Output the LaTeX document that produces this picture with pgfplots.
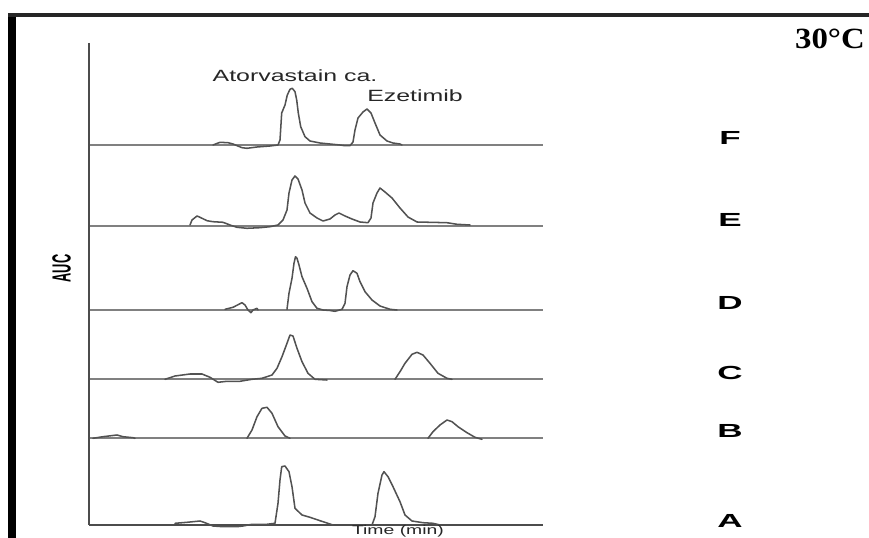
\documentclass[border=0pt]{standalone}
\usepackage{fontspec}
\setmainfont{Liberation Sans}
\newfontfamily\timesf{Liberation Serif}
\usepackage{pgfplots}
\pgfplotsset{compat=1.18}
\pgfplotsset{
  trace/.style={black!68, line width=1.15pt, line join=round, line cap=round, mark=none},
  basel/.style={black!50, line width=1.1pt, mark=none},
}
\begin{document}
\begin{tikzpicture}
\useasboundingbox (0,0) rectangle (651.75pt,403.5pt);
\begin{axis}[at={(0,0)}, anchor=south west, scale only axis,
  width=651.75pt, height=403.5pt,
  xmin=0, xmax=869, ymin=0, ymax=538, y dir=reverse,
  hide axis, clip=false]
% frame
\fill[black] (axis cs:8,13) rectangle (axis cs:16,538);
\fill[black!85] (axis cs:8,13) rectangle (axis cs:869,17);
% baselines
\addplot[basel] coordinates {(89,145)(543,145)};
\addplot[basel] coordinates {(89,226)(543,226)};
\addplot[basel] coordinates {(89,310)(543,310)};
\addplot[basel] coordinates {(89,379)(543,379)};
\addplot[basel] coordinates {(89,438)(543,438)};
\addplot[black!70, line width=1.1pt, mark=none] coordinates {(89,525)(543,525)};
% y axis
\addplot[black!70, line width=1.5pt, mark=none] coordinates {(89,43)(89,525.5)};
% F
\addplot[trace] coordinates {(213,145)(220,142.3)(228,142.7)(233,144)(242,147.7)(247,148.3)(257,147)(270,146)(278,145)(280,140)(281.7,113)(285,105)(287.3,95)(290,89.3)(292.3,88.3)(295,91.7)(296.7,100)(298.3,113)(300.7,126.7)(305,136.7)(310,141)(320,143)(330,144)(340,145)(345,145.7)(350,145.7)(353,142)(355,130)(358,118)(363,112)(367,109)(371,113)(375,123)(380,135)(387,141)(393,143)(400,144)(402,145)};
% E
\addplot[trace] coordinates {(190,225)(192,220)(197,216)(200,217.3)(207,220.7)(213,221.7)(223,222.3)(230,225)(237,227.3)(247,228.3)(260,227.7)(270,226.7)(278,225)(283,220)(287,210)(289,193)(292,180)(295,176)(298,179)(302,190)(305,203)(310,213)(317,218)(323,221)(330,219)(335,215)(339,213)(345,216)(352,219)(360,222)(368,222.7)(371,218)(373,203)(377,193)(380,188)(385,192)(392,198)(400,208)(408,217)(417,222)(430,222.3)(447,222.7)(457,224.3)(470,225)};
% D
\addplot[trace] coordinates {(225,309.3)(233,307.3)(242,302.7)(245,305)(248,310)(251,312.7)(253,310)(257,308.3)(258,310)};
\addplot[trace] coordinates {(287,309.3)(289,293.3)(292,278.3)(294,263.3)(295.5,256.7)(297,258.3)(299,265)(302,276.7)(307,288.3)(312,301.7)(317,308.3)(323,310)(330,310.5)(335,311.3)(342,309.3)(345,303.3)(347,286.7)(350,275)(353,270.7)(357,273.3)(360,281.7)(365,291.7)(372,300)(380,306)(390,309.3)(397,310)};
% C
\addplot[trace] coordinates {(165,379.3)(175,376)(190,374)(202,374)(210,377.3)(218,382.3)(227,381.3)(240,381.3)(252,379.3)(262,378.3)(272,375)(277,368.3)(282,356.7)(287,343.3)(290,335)(293,336)(297,348.3)(302,361.7)(308,373.3)(315,379.3)(327,380)};
\addplot[trace] coordinates {(395,379.3)(400,371.7)(405,363.3)(412,354.3)(417,352.3)(423,355)(430,363.3)(438,373.3)(447,378.3)(452,379.3)};
% B
\addplot[trace] coordinates {(93,438.3)(103,436.7)(117,435)(123,436.7)(133,437.7)(135,438.3)};
\addplot[trace] coordinates {(247,438.3)(252,430)(257,416.7)(262,408.3)(267,407.3)(272,413.3)(278,426.7)(285,436)(290,438.3)};
\addplot[trace] coordinates {(428,438.3)(433,431.7)(440,425)(447,420)(452,421.7)(458,426.7)(467,432.7)(475,437.3)(482,439.3)};
% A
\addplot[trace] coordinates {(175,523.3)(187,522.3)(200,521)(205,522.7)(213,526)(223,526.7)(237,526.7)(243,526)(252,524.3)(267,524.3)(275,523.3)(278,503.3)(280,480)(281.7,466.7)(285,466)(289,471.7)(292,486.7)(295,508.3)(302,515)(310,517.3)(320,520.7)(333,525)};
\addplot[trace] coordinates {(372,525)(375,516.7)(378,493.3)(382,475)(384,471.7)(388,476.7)(393,486.7)(400,501.7)(405,515)(412,521)(423,522.7)(433,523.3)(440,525)};
% texts
\node[anchor=base, text=black!85] at (axis cs:295,82) {\scalebox{1.53}[1]{\fontsize{12.2}{14}\selectfont Atorvastain ca.}};
\node[anchor=base, text=black!85] at (axis cs:415,102) {\scalebox{1.53}[1]{\fontsize{12.2}{14}\selectfont Ezetimib}};
\node[anchor=base, text=black!85] at (axis cs:398,534.5) {\scalebox{1.53}[1]{\fontsize{9.5}{11}\selectfont Time (min)}};
\node[anchor=base] at (axis cs:830,49) {\scalebox{1.12}[1]{\fontsize{22}{24}\selectfont\timesf\bfseries 30°C}};
\node[rotate=90] at (axis cs:61.5,268.5) {\scalebox{1}[2.05]{\fontsize{9.6}{11}\selectfont\bfseries AUC}};
\foreach \l/\yy in {F/145,E/227,D/310,C/380,B/438,A/528}{
  \edef\temp{\noexpand\node[anchor=base] at (axis cs:730,\yy) {\noexpand\scalebox{1.85}[1]{\noexpand\fontsize{14.2}{16}\noexpand\selectfont\noexpand\bfseries \l}};}
  \temp
}
\end{axis}
\end{tikzpicture}
\end{document}
